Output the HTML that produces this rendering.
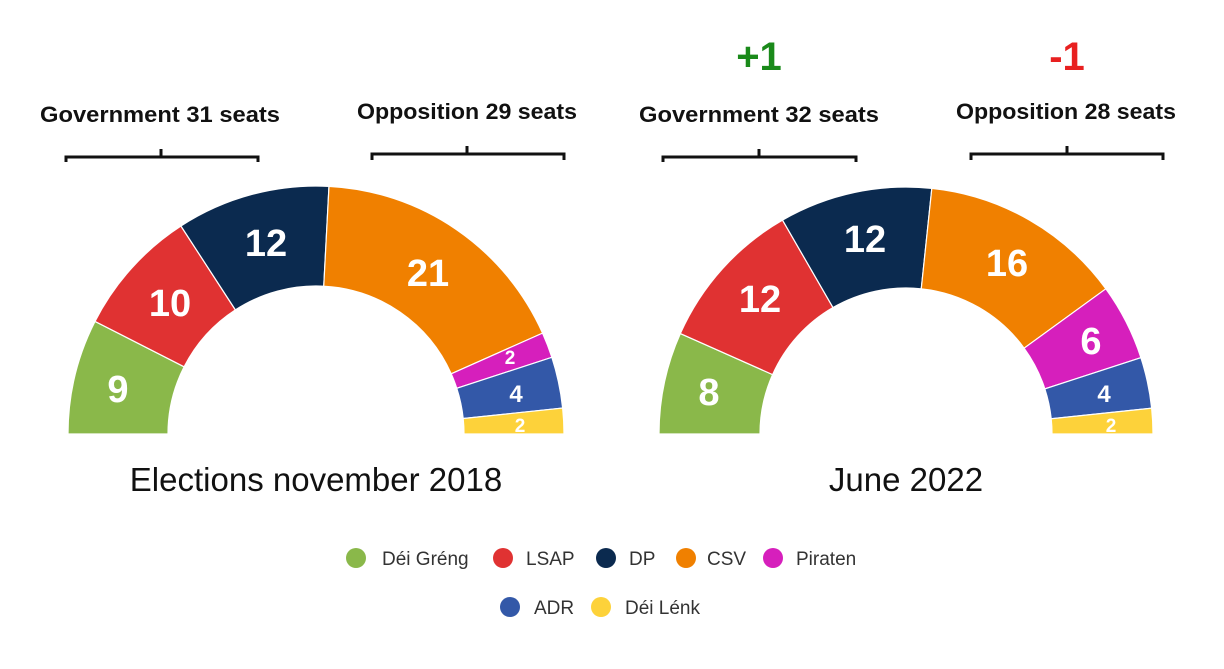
<!DOCTYPE html>
<html><head><meta charset="utf-8"><style>
body{margin:0;background:#fff;}
svg{display:block;font-family:"Liberation Sans",sans-serif;}
.n{font-weight:bold;fill:#fff;text-anchor:middle;}
.h{font-weight:bold;fill:#111;font-size:22px;}
.t{fill:#111;font-size:33px;text-anchor:middle;}
.l{fill:#333;font-size:19px;}
</style></head><body>
<svg id="s" width="1224" height="669" viewBox="0 0 1224 669">
<g id="w"></g>
<g fill="none" stroke="#111" stroke-width="3">
<path d="M66 162V157H258V162M161 157V149"/>
<path d="M372 160V154H564V160M467 154V146"/>
<path d="M663 162V157H856V162M759 157V149"/>
<path d="M971 160V154H1163V160M1067 154V146"/>
</g>
<text class="h" x="40" y="122" textLength="240" lengthAdjust="spacingAndGlyphs">Government  31 seats</text>
<text class="h" x="357" y="119" textLength="220" lengthAdjust="spacingAndGlyphs">Opposition 29 seats</text>
<text class="h" x="639" y="122" textLength="240" lengthAdjust="spacingAndGlyphs">Government  32 seats</text>
<text class="h" x="956" y="119" textLength="220" lengthAdjust="spacingAndGlyphs">Opposition 28 seats</text>
<text x="759" y="70" font-size="40" font-weight="bold" fill="#1a8a1a" text-anchor="middle">+1</text>
<text x="1067" y="70" font-size="40" font-weight="bold" fill="#e82020" text-anchor="middle">-1</text>
<g class="n" font-size="38">
<text x="118" y="402">9</text><text x="170" y="316">10</text><text x="266" y="256">12</text><text x="428" y="286">21</text>
<text x="709" y="405">8</text><text x="760" y="312">12</text><text x="865" y="252">12</text><text x="1007" y="276">16</text><text x="1091" y="354">6</text>
</g>
<g class="n" font-size="24">
<text x="510" y="364" font-size="19">2</text><text x="516" y="402">4</text><text x="520" y="432" font-size="19">2</text>
<text x="1104" y="402">4</text><text x="1111" y="432" font-size="19">2</text>
</g>
<text class="t" x="316" y="491">Elections november 2018</text>
<text class="t" x="906" y="491">June 2022</text>
<g>
<circle cx="356" cy="558" r="10" fill="#8ab84a"/><text class="l" x="382" y="565">Déi Gréng</text>
<circle cx="503" cy="558" r="10" fill="#e03232"/><text class="l" x="526" y="565">LSAP</text>
<circle cx="606" cy="558" r="10" fill="#0b2a4f"/><text class="l" x="629" y="565">DP</text>
<circle cx="686" cy="558" r="10" fill="#f08000"/><text class="l" x="707" y="565">CSV</text>
<circle cx="773" cy="558" r="10" fill="#d61fbc"/><text class="l" x="796" y="565">Piraten</text>
<circle cx="510" cy="607" r="10" fill="#3358a8"/><text class="l" x="534" y="614">ADR</text>
<circle cx="601" cy="607" r="10" fill="#fdd23a"/><text class="l" x="625" y="614">Déi Lénk</text>
</g>
</svg>
<script>
var cols=["#8ab84a","#e03232","#0b2a4f","#f08000","#d61fbc","#3358a8","#fdd23a"];
function arc(cx,cy,R,r,seats){var g=document.getElementById("w"),a=Math.PI,out="";
seats.forEach(function(s,i){var b=a-Math.PI*s/60;
function p(rr,t){return (cx+rr*Math.cos(t)).toFixed(2)+" "+(cy-rr*Math.sin(t)).toFixed(2);}
out+='<path fill="'+cols[i]+'" stroke="#fff" stroke-width="1.2" d="M'+p(R,a)+'A'+R+' '+R+' 0 0 1 '+p(R,b)+'L'+p(r,b)+'A'+r+' '+r+' 0 0 0 '+p(r,a)+'Z"/>';a=b;});
g.innerHTML+=out;}
arc(316,434,248,148,[9,10,12,21,2,4,2]);
arc(906,434,247,146,[8,12,12,16,6,4,2]);
</script>
</body></html>
